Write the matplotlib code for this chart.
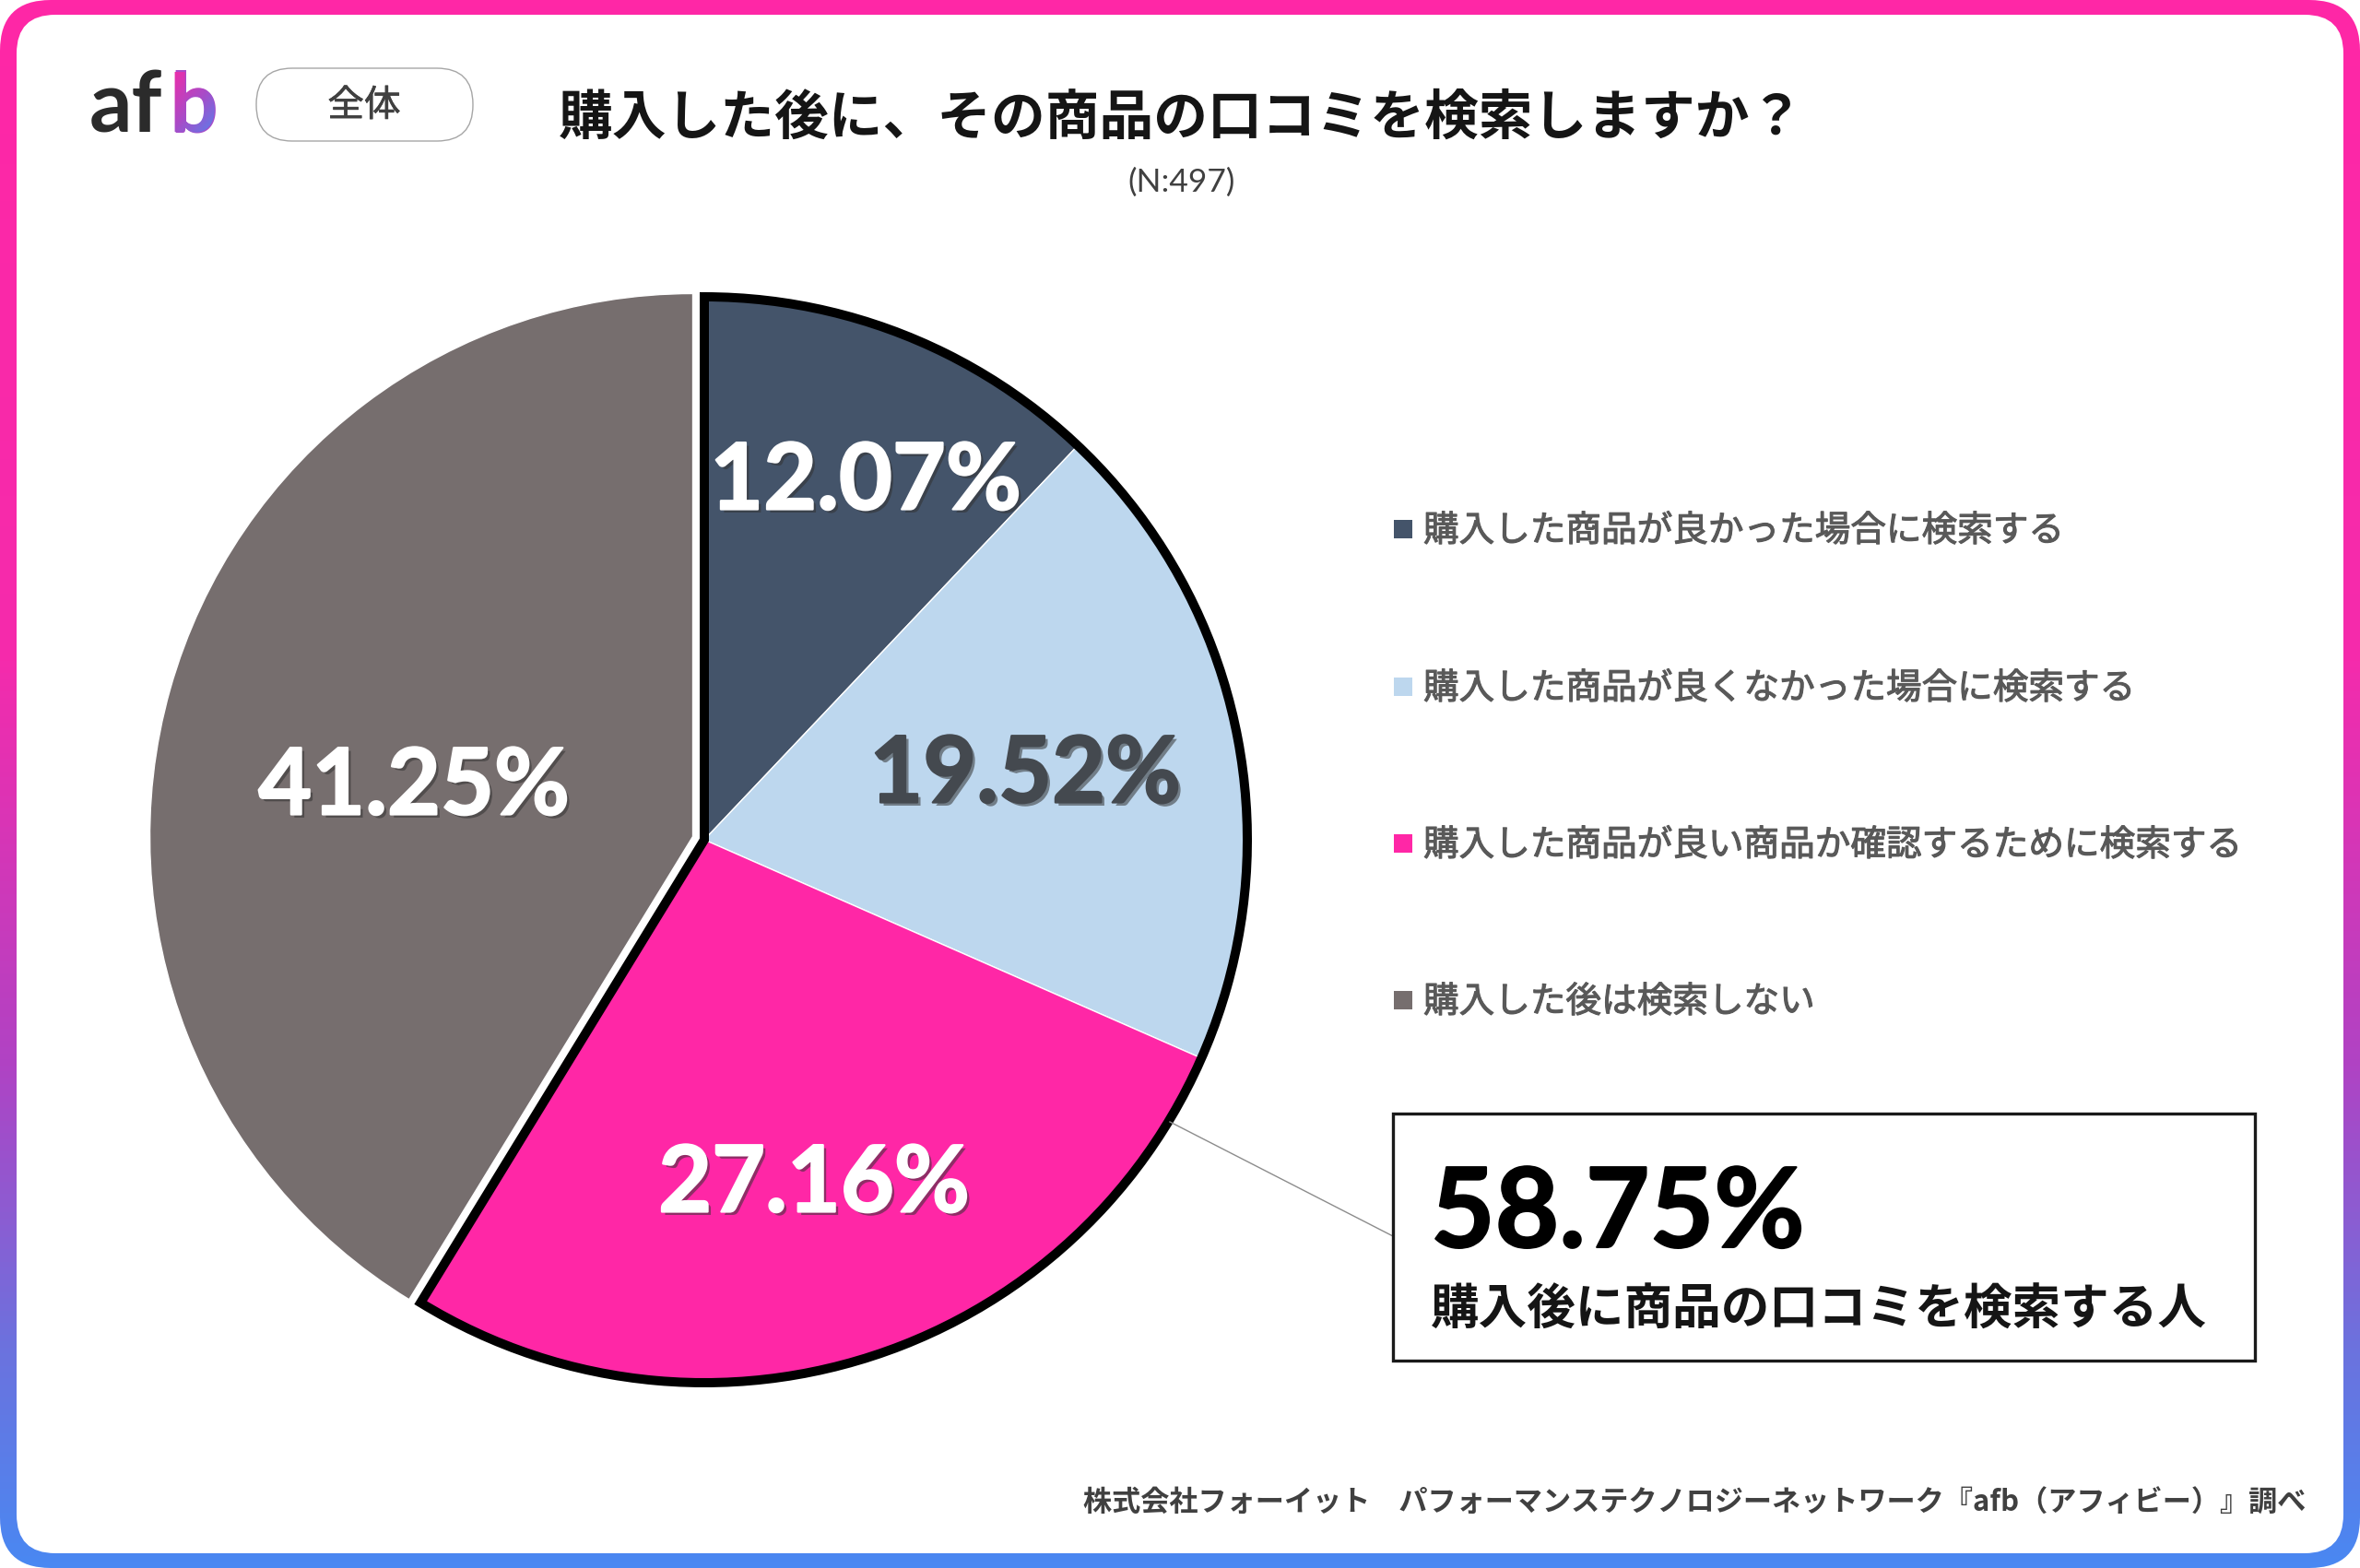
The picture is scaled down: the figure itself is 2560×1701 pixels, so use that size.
import numpy as np
import matplotlib
matplotlib.use('Agg')
import matplotlib.pyplot as plt
import matplotlib.patheffects as pe
from matplotlib.colors import LinearSegmentedColormap
from matplotlib.font_manager import FontProperties
from matplotlib.patches import FancyBboxPatch, Rectangle, Wedge, PathPatch
from matplotlib.textpath import TextPath
from matplotlib.transforms import Affine2D

JP = ['Noto Sans CJK JP', 'DejaVu Sans']

title = '購入した後に、その商品の口コミを検索しますか？'
n_label = '(N:497)'
tag_label = '全体'
categories = ['購入した商品が良かった場合に検索する',
              '購入した商品が良くなかった場合に検索する',
              '購入した商品が良い商品か確認するために検索する',
              '購入した後は検索しない']
values = [12.07, 19.52, 27.16, 41.25]
value_labels = ['12.07%', '19.52%', '27.16%', '41.25%']
colors = ['#44546A', '#BDD7EE', '#FF27A6', '#766E6E']
label_colors = ['white', '#44494F', 'white', 'white']
callout_value = '58.75%'
callout_text = '購入後に商品の口コミを検索する人'
footer = '株式会社フォーイット　パフォーマンステクノロジーネットワーク『afb（アフィビー）』調べ'

W, H = 2560, 1701
fig = plt.figure(figsize=(W / 100, H / 100), dpi=100)
px = fig.add_axes([0, 0, 1, 1])
px.set_xlim(0, W)
px.set_ylim(H, 0)
px.axis('off')

# gradient frame
frame_cmap = LinearSegmentedColormap.from_list(
    'frame', [(0, '#FF27A6'), (0.42, '#F52BAC'), (0.68, '#B043C4'),
              (0.86, '#6C72DE'), (1, '#4A88F2')])
grad = np.linspace(0, 1, 256).reshape(-1, 1)
im = px.imshow(grad, cmap=frame_cmap, extent=(0, W, H, 0), aspect='auto', zorder=0)
outer = FancyBboxPatch((0, 0), W, H, boxstyle='round,pad=0,rounding_size=55',
                       fc='none', ec='none', transform=px.transData)
px.add_patch(outer)
im.set_clip_path(outer)
px.add_patch(FancyBboxPatch((18, 16), W - 36, H - 32,
                            boxstyle='round,pad=0,rounding_size=42',
                            fc='white', ec='none', zorder=1))
px.set_xlim(0, W)
px.set_ylim(H, 0)

# logo
logo_size = 66
px.text(97, 143, 'af', fontsize=logo_size, family='Lato', weight='bold',
        color='#2B2B2B', ha='left', va='baseline', zorder=3)
px.text(184, 143, 'b', fontsize=logo_size, family='Lato', weight='bold',
        color='#A84CC8', ha='left', va='baseline', zorder=3)
b_path = TextPath((0, 0), 'b', size=logo_size * 100 / 72,
                  prop=FontProperties(family='Lato', weight='bold'))
b_patch = PathPatch(b_path, fc='none', ec='none',
                    transform=Affine2D().scale(1, -1).translate(184, 143) + px.transData)
px.add_patch(b_patch)
logo_cmap = LinearSegmentedColormap.from_list('logo', ['#F02CA8', '#A84CC8', '#4A88F2'])
xx, yy = np.meshgrid(np.linspace(0, 1, 64), np.linspace(0, 1, 64))
b_im = px.imshow((xx + yy) / 2, cmap=logo_cmap, extent=(184, 242, 146, 78),
                 aspect='auto', zorder=4)
b_im.set_clip_path(b_patch)
px.set_xlim(0, W)
px.set_ylim(H, 0)

# tag
px.add_patch(FancyBboxPatch((278, 74), 235, 79, boxstyle='round,pad=0,rounding_size=39',
                            fc='white', ec='#A6A6A6', lw=1, zorder=2))
px.text(395, 115, tag_label, fontsize=28.5, family=JP, color='#404040',
        ha='center', va='center', zorder=3,
        path_effects=[pe.withStroke(linewidth=0.5, foreground='#404040')])

# title
px.text(606, 129, title, fontsize=42.3, family=JP, weight='bold', color='#151515',
        ha='left', va='center', zorder=3)
px.text(1282, 198, n_label, fontsize=25.5, family='Lato', color='#404040',
        ha='center', va='center', zorder=3)

# pie
cx, cy, radius = 764, 911, 589
half = radius * 1.1
pie_ax = fig.add_axes([(cx - half) / W, (H - cy - half) / H, 2 * half / W, 2 * half / H])
pie_ax.patch.set_alpha(0)
wedges, _ = pie_ax.pie(values, colors=colors, startangle=90, counterclock=False,
                       explode=[0, 0, 0, 0.022],
                       wedgeprops=dict(edgecolor='white', linewidth=1))
pie_ax.set_xlim(-1.1, 1.1)
pie_ax.set_ylim(-1.1, 1.1)
pie_ax.set_zorder(2)
outline_share = sum(values[:3]) * 3.6
pie_ax.add_patch(Wedge((0, 0), 1, 90 - outline_share, 90, fill=False, ec='black',
                       lw=7.2, joinstyle='miter'))

# value labels
label_pos = [(939, 524), (1112, 842), (883, 1286), (449, 855)]
top = fig.add_axes([0, 0, 1, 1])
top.set_xlim(0, W)
top.set_ylim(H, 0)
top.axis('off')
top.set_zorder(3)
for lab, c, pos in zip(value_labels, label_colors, label_pos):
    top.text(pos[0], pos[1], lab, fontsize=72, family='Lato', weight='bold', color=c,
             ha='center', va='center',
             path_effects=[pe.SimpleLineShadow(offset=(2.5, -2.5), shadow_color='#333333', alpha=0.55),
                           pe.withSimplePatchShadow(offset=(2.5, -2.5), shadow_rgbFace='#333333', alpha=0.55),
                           pe.withStroke(linewidth=1.6, foreground=c)])

# legend
legend_y = [574, 745, 915, 1085]
for name, c, y in zip(categories, colors, legend_y):
    top.add_patch(Rectangle((1512, y - 10), 20, 20, fc=c, ec='none'))
    top.text(1544, y + 2, name, fontsize=27.8, family=JP, color='#595959',
             ha='left', va='center',
             path_effects=[pe.withStroke(linewidth=0.8, foreground='#595959')])

# callout
top.plot([1269, 1511], [1217, 1341], color='#8C8C8C', lw=1)
top.add_patch(Rectangle((1511, 1208), 935, 268, fc='white', ec='#1A1A1A', lw=2.4, zorder=3))
top.text(1552, 1318, callout_value, fontsize=86.5, family='Lato', weight='bold',
         color='black', ha='left', va='center', zorder=4,
         path_effects=[pe.withStroke(linewidth=1.5, foreground='black')])
top.text(1552, 1421, callout_text, fontsize=37.9, family=JP, weight='bold',
         color='#151515', ha='left', va='center', zorder=4)

# footer
top.text(2501, 1631, footer, fontsize=22.45, family=JP, weight='bold', color='#404040',
         ha='right', va='center')

fig.savefig('out.png', dpi=100)
